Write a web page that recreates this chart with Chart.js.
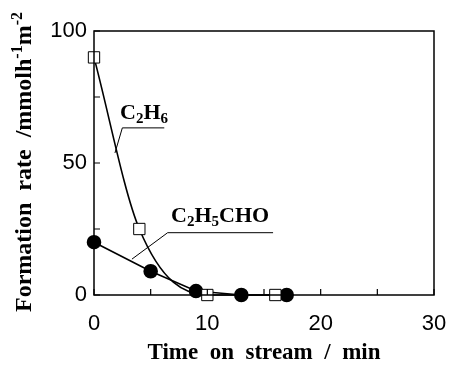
<!DOCTYPE html>
<html>
<head>
<meta charset="utf-8">
<script src="https://cdn.jsdelivr.net/npm/chart.js@4/dist/chart.umd.min.js"></script>
<style>
  html, body { margin: 0; padding: 0; background: #fff; }
  #wrap { width: 451px; height: 372px; }
</style>
</head>
<body>
<div id="wrap"><canvas id="rate-chart" width="451" height="372"></canvas></div>
<script>
// time on stream (min) and formation rates (mmol h-1 m-2)
const ethaneTime = [0, 4, 10, 16];
const ethaneRate = [90, 25, 0, 0];
const propanalTime = [0, 5, 9, 13, 17];
const propanalRate = [20, 9, 1.5, 0, 0];

const xTicks = [0, 10, 20, 30];
const yTicks = [0, 50, 100];
const xMinor = [5, 15, 25];
const yMinor = [25, 75];

// label text, text anchor and leader line, all in data units
const labels = [
  { parts: [['C', 0], ['2', 1], ['H', 0], ['6', 1]], at: [2.3, 66.7], line: [[1.85, 53.8], [2.5, 63.3], [6.2, 63.3]] },
  { parts: [['C', 0], ['2', 1], ['H', 0], ['5', 1], ['CHO', 0]], at: [6.8, 27.7], line: [[3.35, 13.6], [6.5, 23.6], [15.8, 23.6]] }
];

const serif = '"Liberation Serif", "DejaVu Serif", serif';
const sans = '"Liberation Sans", Arial, sans-serif';

const frame = {
  id: 'frame',
  afterDatasetsDraw(chart) {
    const { ctx, chartArea: a, scales: { x, y } } = chart;
    ctx.save();
    ctx.strokeStyle = '#000';
    ctx.lineWidth = 1.5;
    ctx.strokeRect(a.left, a.top, a.right - a.left, a.bottom - a.top);

    // inward ticks on the left and bottom
    ctx.lineWidth = 1.2;
    ctx.beginPath();
    for (const v of xTicks.concat(xMinor)) {
      const px = x.getPixelForValue(v);
      ctx.moveTo(px, a.bottom); ctx.lineTo(px, a.bottom - 6);
    }
    for (const v of yTicks.concat(yMinor)) {
      const py = y.getPixelForValue(v);
      ctx.moveTo(a.left, py); ctx.lineTo(a.left + 6, py);
    }
    ctx.stroke();

    // series labels with leader lines
    ctx.lineWidth = 1;
    for (const l of labels) {
      ctx.beginPath();
      l.line.forEach(([vx, vy], i) => {
        const px = x.getPixelForValue(vx), py = y.getPixelForValue(vy);
        if (i === 0) ctx.moveTo(px, py); else ctx.lineTo(px, py);
      });
      ctx.stroke();
      let px = x.getPixelForValue(l.at[0]);
      const py = y.getPixelForValue(l.at[1]);
      ctx.fillStyle = '#000';
      ctx.textBaseline = 'alphabetic';
      ctx.textAlign = 'left';
      for (const [t, sub] of l.parts) {
        ctx.font = sub ? 'bold 15px ' + serif : 'bold 22px ' + serif;
        ctx.fillText(t, px, py + (sub ? 4 : 0));
        px += ctx.measureText(t).width;
      }
    }

    // axis titles
    ctx.font = 'bold 23px ' + serif;
    ctx.textAlign = 'center';
    ctx.textBaseline = 'middle';
    ctx.fillText('Time  on  stream  /  min', 264, 353);

    ctx.translate(25, 162);
    ctx.rotate(-Math.PI / 2);
    const yParts = [['Formation  rate  /mmolh', 0], ['-1', 1], ['m', 0], ['-2', 1]];
    const big = 'bold 24px ' + serif, small = 'bold 16px ' + serif;
    let w = 0;
    for (const [t, sup] of yParts) {
      ctx.font = sup ? small : big;
      w += ctx.measureText(t).width;
    }
    let cx = -w / 2;
    ctx.textAlign = 'left';
    for (const [t, sup] of yParts) {
      ctx.font = sup ? small : big;
      ctx.fillText(t, cx, sup ? -7 : 0);
      cx += ctx.measureText(t).width;
    }
    ctx.restore();
  }
};

new Chart(document.getElementById('rate-chart'), {
  type: 'scatter',
  data: {
    datasets: [
      {
        label: 'C2H6',
        data: ethaneTime.map((t, i) => ({ x: t, y: ethaneRate[i] })),
        showLine: true,
        cubicInterpolationMode: 'monotone',
        borderColor: '#000',
        borderWidth: 1.6,
        pointStyle: 'rect',
        pointRadius: 8,
        pointBackgroundColor: '#fff',
        pointBorderColor: '#000',
        pointBorderWidth: 1,
        clip: false,
        order: 1
      },
      {
        label: 'C2H5CHO',
        data: propanalTime.map((t, i) => ({ x: t, y: propanalRate[i] })),
        showLine: true,
        tension: 0,
        borderColor: '#000',
        borderWidth: 1.6,
        pointStyle: 'circle',
        pointRadius: 6.5,
        pointBackgroundColor: '#000',
        pointBorderColor: '#000',
        clip: false,
        order: 2
      }
    ]
  },
  options: {
    responsive: false,
    animation: false,
    layout: { padding: { left: 0, right: 17, top: 31, bottom: 0 } },
    plugins: { legend: { display: false }, tooltip: { enabled: false } },
    scales: {
      x: {
        type: 'linear', min: 0, max: 30,
        afterBuildTicks: (s) => { s.ticks = xTicks.map(v => ({ value: v })); },
        afterFit: (s) => { s.height = 77; s.paddingLeft = 0; s.paddingRight = 0; },
        grid: { display: false, drawTicks: false },
        border: { display: false },
        ticks: { color: '#000', padding: 16, font: { family: sans, size: 22 } }
      },
      y: {
        type: 'linear', min: 0, max: 100,
        afterBuildTicks: (s) => { s.ticks = yTicks.map(v => ({ value: v })); },
        afterFit: (s) => { s.width = 94; s.paddingTop = 0; s.paddingBottom = 0; },
        grid: { display: false, drawTicks: false },
        border: { display: false },
        ticks: { color: '#000', padding: 7, font: { family: sans, size: 22 } }
      }
    }
  },
  plugins: [frame]
});
</script>
</body>
</html>
